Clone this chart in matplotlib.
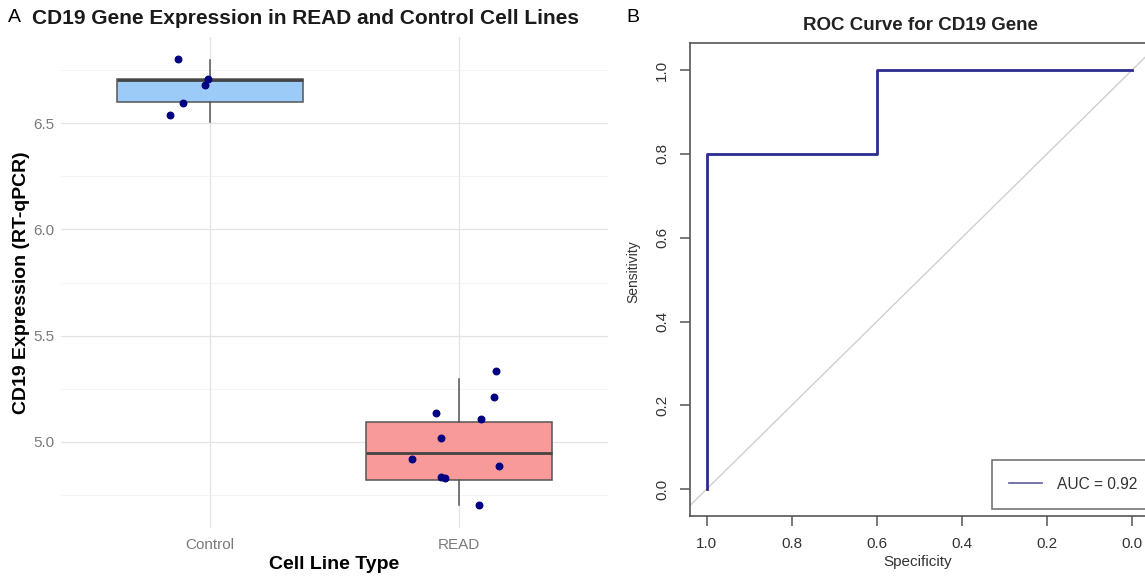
import matplotlib
matplotlib.use("Agg")
import matplotlib.pyplot as plt
import numpy as np

plt.rcParams['font.family'] = ['Liberation Sans', 'DejaVu Sans']

# panel A data
groups = ['Control', 'READ']
control_vals = [6.80, 6.707, 6.68, 6.594, 6.537]
control_jit = [-0.13, -0.01, -0.02, -0.11, -0.16]
read_vals = [5.334, 5.212, 5.138, 5.108, 5.019, 4.919, 4.889, 4.835, 4.829, 4.702]
read_jit = [0.15, 0.14, -0.09, 0.09, -0.07, -0.19, 0.16, -0.07, -0.055, 0.08]

# box statistics as drawn
box_med = [6.705, 4.948]
box_q1 = [6.600, 4.821]
box_q3 = [6.707, 5.094]
box_lo = [6.504, 4.704]
box_hi = [6.796, 5.296]
box_fill = ['#9dcbf8', '#f89a9a']

# panel B data
roc_spec = [1.0, 1.0, 0.6, 0.6, 0.0]
roc_sens = [0.0, 0.8, 0.8, 1.0, 1.0]
auc = 0.92

W, H = 1145, 576
fig = plt.figure(figsize=(W / 100, H / 100), dpi=100)

# ---------------- panel A ----------------
ax = fig.add_axes([61 / W, (H - 528) / H, (608 - 61) / W, (528 - 37) / H])

stats = []
for i in range(2):
    stats.append(dict(med=box_med[i], q1=box_q1[i], q3=box_q3[i],
                      whislo=box_lo[i], whishi=box_hi[i], fliers=[]))
bp = ax.bxp(stats, positions=[1, 2], widths=0.75, patch_artist=True,
            showcaps=False,
            boxprops=dict(edgecolor='#555555', lw=1.1),
            whiskerprops=dict(color='#555555', lw=1.1),
            medianprops=dict(color='#444444', lw=2.0))
for patch, c in zip(bp['boxes'], box_fill):
    patch.set_facecolor(c)

ax.scatter(1 + np.array(control_jit), control_vals, s=22, color='#000080', zorder=5)
ax.scatter(2 + np.array(read_jit), read_vals, s=22, color='#000080', zorder=5)

ax.set_xlim(0.4, 2.6)
ax.set_ylim(4.595, 6.905)
for s in ax.spines.values():
    s.set_visible(False)
ax.set_yticks([5.0, 5.5, 6.0, 6.5])
ax.set_yticks([4.75, 5.25, 5.75, 6.25, 6.75], minor=True)
ax.set_xticks([1, 2])
ax.set_xticklabels(groups)
ax.grid(True, which='major', color='#e3e3e3', lw=0.9)
ax.grid(True, which='minor', axis='y', color='#f1f1f1', lw=0.6)
ax.set_axisbelow(True)
ax.tick_params(which='both', length=0, colors='#7a7a7a', labelsize=11)
ax.tick_params(axis='x', pad=7)
ax.tick_params(axis='y', pad=5)

ax.set_xlabel('Cell Line Type', fontsize=14, fontweight='bold', labelpad=3)
ax.set_ylabel('CD19 Expression (RT-qPCR)', fontsize=14, fontweight='bold', labelpad=2)
fig.text(305 / W, 1 - 18 / H, 'CD19 Gene Expression in READ and Control Cell Lines',
         ha='center', va='center', fontsize=15, fontweight='bold', color='#1a1a1a')
fig.text(8 / W, 1 - 18 / H, 'A', ha='left', va='center', fontsize=14)

# ---------------- panel B ----------------
bx = fig.add_axes([690 / W, (H - 516) / H, (1148.6 - 690) / W, (516 - 43.3) / H])
bx.set_xlim(1.039, -0.039)
bx.set_ylim(-0.064, 1.064)
for s in bx.spines.values():
    s.set_color('#555555')
    s.set_linewidth(1.2)
ticks = [0.0, 0.2, 0.4, 0.6, 0.8, 1.0]
bx.set_xticks(ticks)
bx.set_yticks(ticks)
bx.set_xticklabels(['%.1f' % t for t in ticks])
bx.set_yticklabels(['%.1f' % t for t in ticks], rotation=90, va='center')
bx.tick_params(length=7, width=1.1, color='#555555', labelcolor='#333333', labelsize=11)
bx.tick_params(axis='x', pad=8)
bx.tick_params(axis='y', pad=8)

bx.axline((1, 0), (0, 1), color='#cfcfcf', lw=1.0, zorder=1)
bx.plot(roc_spec, roc_sens, color='#2c2c8e', lw=2.0, zorder=3)

leg_line, = bx.plot([], [], color='#5c5c9c', lw=1.2)
leg = bx.legend([leg_line], ['AUC = %.2f' % auc], loc='lower right',
                bbox_to_anchor=(1.013, 0.015), fontsize=11.2, frameon=True,
                fancybox=False, borderpad=1.1, handlelength=2.1,
                handletextpad=1.0, borderaxespad=0.0)
leg.get_frame().set_edgecolor('#444444')
leg.get_frame().set_linewidth(1.1)
for t in leg.get_texts():
    t.set_color('#333333')

bx.set_xlabel('Specificity', fontsize=11, color='#333333')
bx.set_ylabel('Sensitivity', fontsize=10, color='#333333')
bx.xaxis.set_label_coords(0.497, -0.083)
bx.yaxis.set_label_coords(-0.109, 0.516)
fig.text(920 / W, 1 - 25 / H, 'ROC Curve for CD19 Gene', ha='center', va='center',
         fontsize=13.5, fontweight='bold', color='#222222')
fig.text(626 / W, 1 - 18 / H, 'B', ha='left', va='center', fontsize=14)

fig.savefig('out.png', dpi=100)
